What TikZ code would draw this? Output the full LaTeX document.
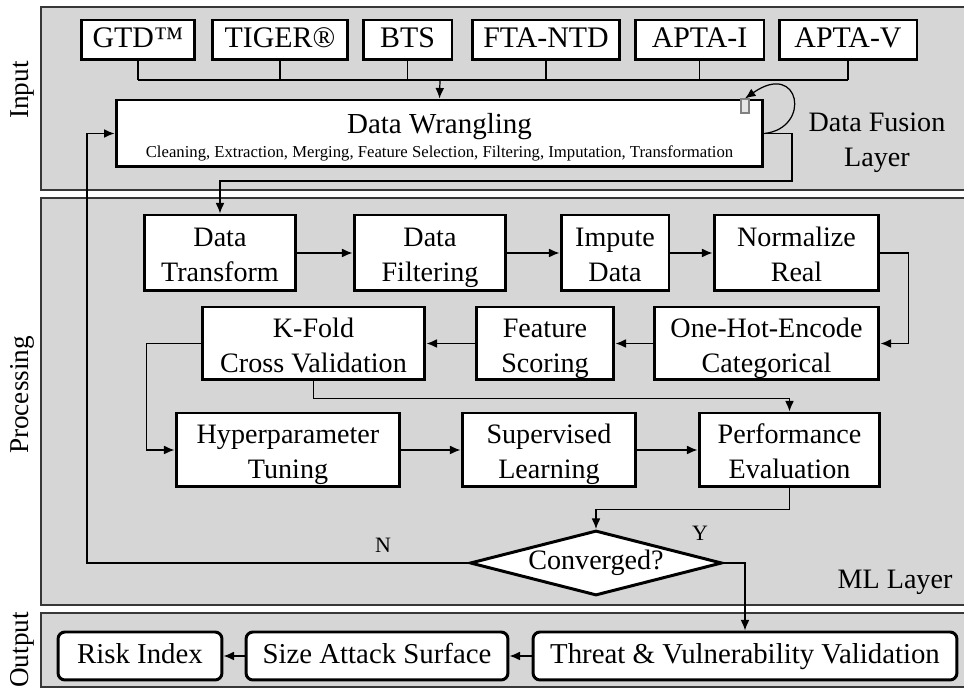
\documentclass[tikz,border=0pt]{standalone}
\usepackage{fontspec}
\setmainfont{Liberation Serif}
\usetikzlibrary{positioning,shapes.geometric,arrows.meta}

\definecolor{layergray}{RGB}{214,214,214}
\definecolor{layerline}{RGB}{55,55,55}

\tikzset{
    layer/.style={fill=layergray, draw=layerline, line width=0.8pt},
    srcbox/.style={draw, fill=white, line width=1.7pt, inner sep=0pt, minimum height=0.8cm, text height=12pt, text depth=3pt, font=\fontsize{17}{20}\selectfont},
    procbox/.style={draw, fill=white, line width=1.7pt, inner sep=0pt, align=center,
        text height=34pt, text depth=1.2pt, font=\fontsize{16}{20}\selectfont},
    outbox/.style={draw, fill=white, line width=1.7pt, rounded corners=4pt, inner sep=0pt, minimum height=0.96cm, text height=11.5pt, text depth=3.5pt, font=\fontsize{16.4}{19}\selectfont},
    decide/.style={diamond, draw, fill=white, line width=1.7pt, inner sep=0pt, aspect=3.9, minimum width=5.04cm, minimum height=1.3cm, font=\fontsize{16}{19}\selectfont},
    conn/.style={line width=0.7pt},
    arr/.style={conn, -{Latex[length=6pt,width=5pt]}},
    sidelabel/.style={rotate=90, font=\fontsize{15.5}{18}\selectfont},
    layerlabel/.style={align=center, font=\fontsize{16}{20}\selectfont},
    yn/.style={font=\fontsize{12.5}{14}\selectfont}
}

\begin{document}
\begin{tikzpicture}[x=0.02cm, y=-0.02cm]
    \clip (0,0) rectangle (964,688);
    % Layers
    \draw[layer] (41,7) rectangle (980,190);
    \draw[layer] (41,198) rectangle (980,605);
    \draw[layer] (41,613) rectangle (980,687);
    \node[sidelabel] (lin) at (22,90) {Input};
    \node[sidelabel] (lproc) at (22,395) {Processing};
    \node[sidelabel] (lout) at (22,650) {Output};
    \node[layerlabel] (lfusion) at (877,143) {Data Fusion\\Layer};
    \node[layerlabel] (lml) at (895,582) {ML Layer};

    % Data sources
    \node[srcbox, minimum width=2.28cm] (gtd) at (138,40) {GTD™};
    \node[srcbox, minimum width=2.72cm] (tiger) at (280,40) {TIGER®};
    \node[srcbox, minimum width=1.78cm] (bts) at (407.5,40) {BTS};
    \node[srcbox, minimum width=2.96cm] (fta) at (546,40) {FTA-NTD};
    \node[srcbox, minimum width=2.58cm] (aptai) at (699.5,40) {APTA-I};
    \node[srcbox, minimum width=2.76cm] (aptav) at (848,40) {APTA-V};
    \coordinate (bus) at (440,80);
    \foreach \src in {gtd,tiger,bts,fta,aptai,aptav} {
        \draw[conn] (\src.south) -- (\src.south |- bus);
    }
    \draw[conn] (gtd.south |- bus) -- (aptav.south |- bus);

    % Data fusion
    \node[draw, fill=white, line width=1.7pt, minimum width=12.94cm, minimum height=1.34cm] (wrangle) at (439.5,133.5) {};
    \node[font=\fontsize{16.5}{20}\selectfont] (wtitle) at (439.5,127) {Data Wrangling};
    \node[font=\fontsize{9.5}{11}\selectfont] (wsub) at (439.5,153) {Cleaning, Extraction, Merging, Feature Selection, Filtering, Imputation, Transformation};
    \node[draw=gray, fill=gray!20, line width=0.6pt, inner sep=0pt, minimum width=0.16cm, minimum height=0.28cm] (tab) at (745,106) {};
    \draw[arr] (bus) -- (wrangle.north);
    \draw[arr] (wrangle.east) .. controls (812,128) and (800,60) .. (tab.north);

    % Processing pipeline
    \node[procbox, minimum width=3.04cm, minimum height=1.52cm] (dtrans) at (220,253) {Data\\Transform};
    \node[procbox, minimum width=3.04cm, minimum height=1.52cm] (dfilt) at (430,253) {Data\\Filtering};
    \node[procbox, minimum width=2.16cm, minimum height=1.52cm] (impute) at (615,253) {Impute\\Data};
    \node[procbox, minimum width=3.3cm, minimum height=1.52cm] (normal) at (796.5,253) {Normalize\\Real};
    \node[procbox, minimum width=4.46cm, minimum height=1.46cm] (kfold) at (313.5,343.5) {K-Fold\\Cross Validation};
    \node[procbox, minimum width=2.76cm, minimum height=1.46cm] (fscore) at (545,343.5) {Feature\\Scoring};
    \node[procbox, minimum width=4.5cm, minimum height=1.46cm] (onehot) at (766.5,343.5) {One-Hot-Encode\\Categorical};
    \node[procbox, minimum width=4.48cm, minimum height=1.48cm] (hyper) at (288,450) {Hyperparameter\\Tuning};
    \node[procbox, minimum width=3.48cm, minimum height=1.48cm] (superv) at (549,450) {Supervised\\Learning};
    \node[procbox, minimum width=3.62cm, minimum height=1.48cm] (perf) at (789.5,450) {Performance\\Evaluation};
    \node[decide] (conv) at (596,563) {Converged?};

    \coordinate (drop) at (792,181);
    \draw[arr] (wrangle.east) -| (drop) -| (dtrans.north);
    \draw[arr] (dtrans) -- (dfilt);
    \draw[arr] (dfilt) -- (impute);
    \draw[arr] (impute) -- (normal);
    \draw[arr] (normal.east) -- ++(28,0) |- (onehot.east);
    \draw[arr] (onehot) -- (fscore);
    \draw[arr] (fscore) -- (kfold);
    \draw[arr] (kfold.west) -- ++(-54,0) |- (hyper.west);
    \draw[arr] (kfold.south) -- ++(0,17) -| (perf.north);
    \draw[arr] (hyper) -- (superv);
    \draw[arr] (superv) -- (perf);
    \draw[arr] (perf.south) -- ++(0,21) -| (conv.north);

    % Convergence branches
    \coordinate (back) at (87,563);
    \draw[arr] (conv.west) -- (back) |- (wrangle.west);
    \node[yn] (nlab) at (383,545) {N};
    \node[yn] (ylab) at (700,533) {Y};

    % Output
    \node[outbox, minimum width=3.28cm] (risk) at (140,656) {Risk Index};
    \node[outbox, minimum width=5.24cm] (sizeas) at (377,656) {Size Attack Surface};
    \node[outbox, minimum width=8.48cm] (threat) at (745,656) {Threat \& Vulnerability Validation};
    \draw[arr] (conv.east) -| (threat.north);
    \draw[arr] (threat) -- (sizeas);
    \draw[arr] (sizeas) -- (risk);
\end{tikzpicture}
\end{document}
